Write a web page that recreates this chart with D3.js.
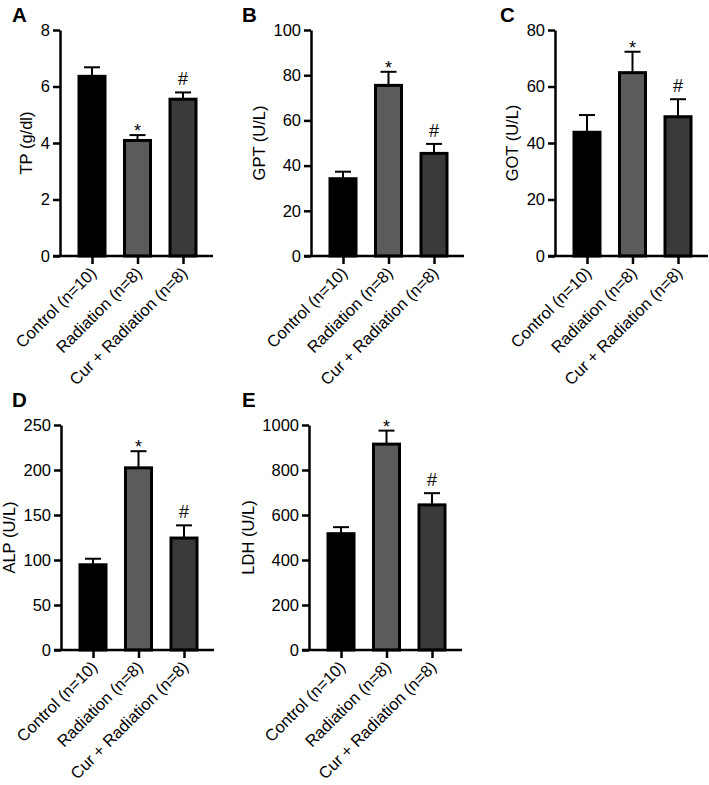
<!DOCTYPE html>
<html>
<head>
<meta charset="utf-8">
<script src="https://cdn.jsdelivr.net/npm/d3@7"></script>
<style>
  body { margin: 0; background: #fff; }
  svg { display: block; font-family: "Liberation Sans", Arial, sans-serif; }
</style>
</head>
<body>
<script>
// ---- data ----
const categories = ["Control (n=10)", "Radiation (n=8)", "Cur + Radiation (n=8)"];
const marks = ["", "*", "#"];

const tpMean = [6.36, 4.09, 5.55];
const tpSem  = [0.32, 0.19, 0.24];
const tpTicks = [0, 2, 4, 6, 8];

const gptMean = [34.2, 75.5, 45.4];
const gptSem  = [3.1, 6.0, 4.2];
const gptTicks = [0, 20, 40, 60, 80, 100];

const gotMean = [43.8, 64.9, 49.3];
const gotSem  = [6.1, 7.4, 6.2];
const gotTicks = [0, 20, 40, 60, 80];

const alpMean = [94.7, 202.4, 124.4];
const alpSem  = [6.7, 18.5, 14.1];
const alpTicks = [0, 50, 100, 150, 200, 250];

const ldhMean = [517, 915, 645];
const ldhSem  = [29, 60, 52];
const ldhTicks = [0, 200, 400, 600, 800, 1000];

const panelLetters = ["A", "B", "C", "D", "E"];
const yTitles = ["TP (g/dl)", "GPT (U/L)", "GOT (U/L)", "ALP (U/L)", "LDH (U/L)"];

// ---- styles / layout ----
const fills = ["#000000", "#5b5b5b", "#3a3a3a"];
const panels = [
  { letter: panelLetters[0], title: yTitles[0], mean: tpMean,  sem: tpSem,  ticks: tpTicks,  ax: 60,  top: 30,  bottom: 256, lx: 12,  ly: 22 },
  { letter: panelLetters[1], title: yTitles[1], mean: gptMean, sem: gptSem, ticks: gptTicks, ax: 311, top: 30,  bottom: 256, lx: 242, ly: 22 },
  { letter: panelLetters[2], title: yTitles[2], mean: gotMean, sem: gotSem, ticks: gotTicks, ax: 555, top: 30,  bottom: 256, lx: 500, ly: 22 },
  { letter: panelLetters[3], title: yTitles[3], mean: alpMean, sem: alpSem, ticks: alpTicks, ax: 61,  top: 425, bottom: 650, lx: 12,  ly: 407 },
  { letter: panelLetters[4], title: yTitles[4], mean: ldhMean, sem: ldhSem, ticks: ldhTicks, ax: 309, top: 425, bottom: 650, lx: 242, ly: 407 }
];

const svg = d3.select("body").append("svg").attr("width", 709).attr("height", 785);

panels.forEach(p => {
  const g = svg.append("g");
  const maxT = d3.max(p.ticks);
  const y = d3.scaleLinear().domain([0, maxT]).range([p.bottom, p.top]);
  const x = d3.scalePoint().domain(categories).range([p.ax + 32, p.ax + 123]);
  const bw = 26;

  // bars
  g.selectAll("rect.bar").data(categories).join("rect")
    .attr("class", "bar")
    .attr("x", d => x(d) - bw / 2)
    .attr("y", (d, i) => y(p.mean[i]))
    .attr("width", bw)
    .attr("height", (d, i) => p.bottom - y(p.mean[i]))
    .attr("fill", (d, i) => fills[i])
    .attr("stroke", "#000")
    .attr("stroke-width", 3);

  // error bars (upper only)
  const eb = g.selectAll("g.eb").data(categories).join("g").attr("class", "eb");
  eb.append("line")
    .attr("x1", d => x(d)).attr("x2", d => x(d))
    .attr("y1", (d, i) => y(p.mean[i]))
    .attr("y2", (d, i) => y(p.mean[i] + p.sem[i]))
    .attr("stroke", "#000").attr("stroke-width", 2);
  eb.append("line")
    .attr("x1", d => x(d) - 8).attr("x2", d => x(d) + 8)
    .attr("y1", (d, i) => y(p.mean[i] + p.sem[i]))
    .attr("y2", (d, i) => y(p.mean[i] + p.sem[i]))
    .attr("stroke", "#000").attr("stroke-width", 2);

  // significance marks
  g.selectAll("text.mark").data(categories).join("text")
    .attr("class", "mark")
    .attr("x", d => x(d))
    .attr("y", (d, i) => y(p.mean[i] + p.sem[i]) + (marks[i] === "*" ? 2 : -7))
    .attr("text-anchor", "middle")
    .attr("font-size", 18)
    .text((d, i) => marks[i]);

  // y axis
  const yAxis = g.append("g")
    .attr("transform", `translate(${p.ax},0)`)
    .call(d3.axisLeft(y).tickValues(p.ticks).tickFormat(d3.format("d"))
      .tickSize(7).tickSizeOuter(0).tickPadding(3));
  yAxis.select(".domain").attr("stroke", "#000").attr("stroke-width", 2.5);
  yAxis.selectAll(".tick line").attr("stroke", "#000").attr("stroke-width", 2.5);
  yAxis.selectAll(".tick text").attr("font-size", 16.5).attr("fill", "#000")
    .attr("font-family", "Liberation Sans, Arial, sans-serif");

  // x axis
  const xAxis = g.append("g")
    .attr("transform", `translate(0,${p.bottom})`)
    .call(d3.axisBottom(x).tickSize(8).tickSizeOuter(0));
  xAxis.select(".domain").remove();
  xAxis.selectAll(".tick line").attr("stroke", "#000").attr("stroke-width", 2.5);
  xAxis.selectAll(".tick text")
    .attr("font-size", 16.5).attr("fill", "#000")
    .attr("font-family", "Liberation Sans, Arial, sans-serif")
    .attr("text-anchor", "end")
    .attr("x", 0).attr("y", 0).attr("dy", 0)
    .attr("transform", "translate(5,18) rotate(-45)");
  g.append("line")
    .attr("x1", p.ax - 7).attr("x2", p.ax + 153)
    .attr("y1", p.bottom).attr("y2", p.bottom)
    .attr("stroke", "#000").attr("stroke-width", 2.5);

  // y title
  const digits = String(maxT).length;
  g.append("text")
    .attr("transform", `translate(${p.ax - (19.5 + 9 * digits)},${(p.top + p.bottom) / 2}) rotate(-90)`)
    .attr("text-anchor", "middle")
    .attr("font-size", 16.5)
    .text(p.title);

  // panel letter
  g.append("text")
    .attr("x", p.lx).attr("y", p.ly)
    .attr("font-size", 20.5).attr("font-weight", "bold")
    .text(p.letter);
});
</script>
</body>
</html>
